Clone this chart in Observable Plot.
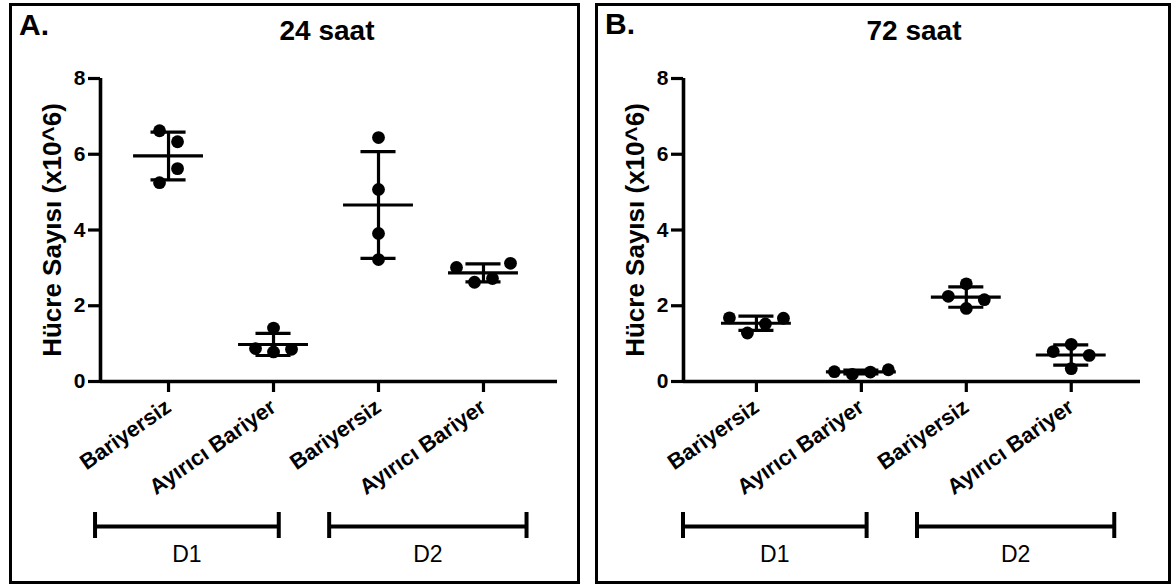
<!DOCTYPE html>
<html><head><meta charset="utf-8">
<script src="https://cdn.jsdelivr.net/npm/d3@7"></script>
<script src="https://cdn.jsdelivr.net/npm/@observablehq/plot@0.6"></script>
<style>
body{margin:0;background:#fff;}
#root{position:relative;width:1176px;height:588px;overflow:hidden;background:#fff;font-family:"Liberation Sans",Arial,sans-serif;color:#000;}
.box{position:absolute;border:3px solid #000;box-sizing:border-box;}
.lbl{position:absolute;font-weight:bold;line-height:1;white-space:nowrap;}
.abs{position:absolute;}
svg{overflow:visible;}
svg [aria-label="y-axis label"] text{font-size:26px;}
</style></head><body><div id="root"></div>
<script>
// ---- data ----
const categories = ["Bariyersiz", "Ayırıcı Bariyer", "Bariyersiz", "Ayırıcı Bariyer"];
const groupLabels = ["D1", "D2"];
const yTicks = [0, 2, 4, 6, 8];
const titles = ["24 saat", "72 saat"];
const panelLetters = ["A.", "B."];
const yLabel = "Hücre Sayısı (x10^6)";
// four replicate values per category (x10^6 cells), in original order
const values24 = [
  [6.62, 6.33, 5.25, 5.62],
  [1.41, 0.87, 0.78, 0.85],
  [6.44, 5.07, 3.91, 3.22],
  [3.01, 2.62, 2.72, 3.12]
];
const values72 = [
  [1.68, 1.28, 1.52, 1.67],
  [0.26, 0.19, 0.25, 0.31],
  [2.25, 2.58, 2.16, 1.93],
  [0.79, 0.98, 0.69, 0.34]
];
// category index span covered by each group bracket
const bracketFrom = [-0.70, 1.53];
const bracketTo = [1.05, 3.41];

// ---- layout ----
const root = document.getElementById("root");
const FONT = '"Liberation Sans", Arial, sans-serif';
const Y0 = 381, Y8 = 78;
function box(l, t, w, h) {
  const d = document.createElement("div");
  d.className = "box";
  Object.assign(d.style, {left: l + "px", top: t + "px", width: w + "px", height: h + "px"});
  root.appendChild(d);
}
function label(text, x, baseline, size, anchor, weight) {
  const d = document.createElement("div");
  d.className = "lbl";
  d.textContent = text;
  d.style.fontSize = size + "px";
  d.style.fontWeight = weight || "bold";
  d.style.top = (baseline - size * 0.8465) + "px";
  if (anchor === "middle") { d.style.left = x + "px"; d.style.transform = "translateX(-50%)"; }
  else d.style.left = x + "px";
  root.appendChild(d);
}
function place(node, l, t) {
  node.classList.add("abs");
  node.style.left = l + "px"; node.style.top = t + "px";
  root.appendChild(node);
}
// simple GraphPad-like scatter spreading: points within binPx vertically share a row
function swarm(vals, yScale, spacing, binPx) {
  const order = vals.map((v, i) => i).sort((a, b) => vals[b] - vals[a]);
  const bins = [];
  for (const i of order) {
    const last = bins[bins.length - 1];
    if (last && Math.abs(yScale(vals[i]) - yScale(vals[last[0]])) < binPx) last.push(i);
    else bins.push([i]);
  }
  const off = vals.map(() => 0);
  for (const b of bins) {
    b.sort((a, c) => a - c);
    b.forEach((i, k) => off[i] = (k - (b.length - 1) / 2) * spacing);
  }
  return off;
}

const W = 580, ML = 100, MR = 23;
function panel(values, xDomain, left) {
  const step = (W - ML - MR) / (xDomain[1] - xDomain[0]);
  const yS = d3.scaleLinear([0, 8], [Y0, Y8]);
  const pts = [], stats = [];
  values.forEach((vals, g) => {
    const off = swarm(vals, yS, 18, 19.5);
    vals.forEach((v, i) => pts.push({x: g + off[i] / step, y: v}));
    const m = d3.mean(vals), s = d3.deviation(vals);
    stats.push({g, m, lo: m - s, hi: m + s});
  });
  const H = 430;
  const chart = Plot.plot({
    width: W, height: H,
    marginLeft: ML, marginRight: MR, marginTop: Y8, marginBottom: H - Y0,
    style: {fontFamily: FONT, fontSize: "21px", fontWeight: "bold", color: "#000", background: "transparent", overflow: "visible"},
    x: {domain: xDomain, axis: null},
    y: {domain: [0, 8], axis: null},
    marks: [
      Plot.axisY({ticks: yTicks, tickSize: 12, tickPadding: 3, strokeWidth: 3.2, fontSize: 21,
        label: yLabel, labelAnchor: "center", labelArrow: "none", labelOffset: 58}),
      Plot.axisX({ticks: [0, 1, 2, 3], tickFormat: i => categories[i], tickSize: 11, strokeWidth: 3.2, fontSize: 22,
        tickRotate: -35, textAnchor: "end", tickPadding: 12, label: null}),
      Plot.ruleX([xDomain[0]], {strokeWidth: 3.6}),
      Plot.ruleY([0], {strokeWidth: 3.6}),
      Plot.ruleX(stats, {x: "g", y1: "lo", y2: "hi", strokeWidth: 3.2}),
      Plot.ruleY(stats, {y: "m", x1: d => d.g - 0.333, x2: d => d.g + 0.333, strokeWidth: 3.2}),
      Plot.ruleY(stats, {y: "lo", x1: d => d.g - 0.167, x2: d => d.g + 0.167, strokeWidth: 3.2}),
      Plot.ruleY(stats, {y: "hi", x1: d => d.g - 0.167, x2: d => d.g + 0.167, strokeWidth: 3.2}),
      Plot.dot(pts, {x: "x", y: "y", r: 6.4, fill: "#000", stroke: "none"})
    ]
  });
  place(chart, left, 0);

  const brackets = groupLabels.map((lab, i) => ({label: lab, from: bracketFrom[i], to: bracketTo[i]}));
  const ends = brackets.flatMap(b => [{x: b.from}, {x: b.to}]);
  const br = Plot.plot({
    width: W, height: 80, marginLeft: ML, marginRight: MR, marginTop: 0, marginBottom: 0,
    style: {fontFamily: FONT, fontSize: "23px", color: "#000", background: "transparent", overflow: "visible"},
    x: {domain: xDomain, axis: null},
    y: {domain: [0, 1], range: [0, 80], axis: null},
    marks: [
      Plot.ruleY(brackets, {x1: "from", x2: "to", y: 0.325, strokeWidth: 4}),
      Plot.ruleX(ends, {x: "x", y1: 0.15, y2: 0.475, strokeWidth: 4}),
      Plot.text(brackets, {x: d => (d.from + d.to) / 2, y: 0.765, text: "label", fontSize: 23, lineAnchor: "bottom", fill: "#000"})
    ]
  });
  place(br, left, 500);
}

box(9, 3, 571, 581);
box(595, 3, 576, 581);
panel(values24, [-0.648, 3.705], 0);
panel(values72, [-0.695, 3.66], 583);
label(panelLetters[0], 19, 35, 30);
label(panelLetters[1], 605, 34, 30);
label(titles[0], 327, 41, 28, "middle");
label(titles[1], 914, 41, 28, "middle");
</script></body></html>
